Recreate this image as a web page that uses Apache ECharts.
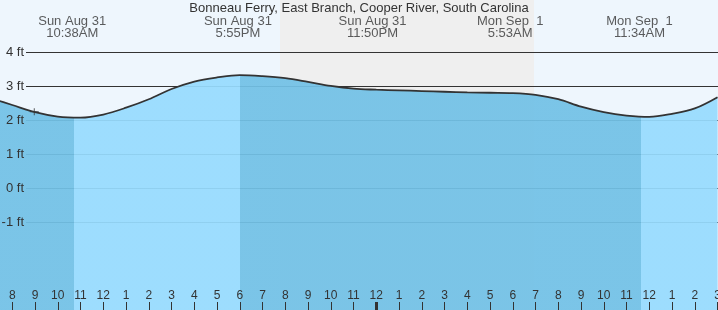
<!DOCTYPE html>
<html><head><meta charset="utf-8">
<script src="https://cdn.jsdelivr.net/npm/echarts@6/dist/echarts.min.js"></script>
<style>html,body{margin:0;padding:0;background:#fff;overflow:hidden}#c{width:718px;height:310px}</style>
</head><body><div id="c"></div>
<script>
// ---- data (hours counted from Sun Aug 31 00:00) ----
const chartTitle = 'Bonneau Ferry, East Branch, Cooper River, South Carolina';
const startHour = 7;            // first hourly reading: Sun Aug 31 7AM
const heights = [2.66, 2.45, 2.24, 2.11, 2.08, 2.17, 2.37, 2.62, 2.92, 3.14, 3.26, 3.33, 3.30,
                 3.24, 3.13, 3.01, 2.93, 2.90, 2.88, 2.86, 2.84, 2.82, 2.81, 2.80, 2.75, 2.62,
                 2.40, 2.24, 2.14, 2.10, 2.19, 2.35, 2.68];
const eventTimes = ['08-31 10:38', '08-31 17:55', '08-31 23:50', '09-01 05:53', '09-01 11:34'];
const eventLabels = ['Sun Aug 31\n10:38AM', 'Sun Aug 31\n5:55PM', 'Sun Aug 31\n11:50PM',
                     'Mon Sep  1\n5:53AM', 'Mon Sep  1\n11:34AM'];
const nightSpan = ['08-31 19:46', '09-01 06:56'];
const waterEdges = ['08-31 10:43', '08-31 18:00', '09-01 11:38']; // falling | rising | falling | rising
const viewSpan = ['08-31 07:27.6', '09-01 15:01.2'];
const nowPoint = ['08-31 08:58', 2.25];
const hourTicks = [];
for (let h = 8; h <= 39; h++) hourTicks.push(h);
const midnightTick = [24];

function toH(s) {
  const [d, t] = s.split(' ');
  const day = d === '08-31' ? 0 : 24;
  const [hh, mm] = t.split(':');
  return day + Number(hh) + Number(mm) / 60;
}
const series0 = heights.map((v, i) => [startHour + i, v]);
const xMin = toH(viewSpan[0]), xMax = toH(viewSpan[1]);
const e = waterEdges.map(toH);
const DARK = '#72c1e6', LIGHT = '#97dbfe';
const FONT = 'Liberation Sans, Arial, sans-serif';
const SMOOTH = 0.35;

const chart = echarts.init(document.getElementById('c'), null, {renderer: 'canvas'});
chart.setOption({
  animation: false,
  backgroundColor: '#eef6fd',
  textStyle: {fontFamily: FONT},
  title: {text: chartTitle, left: 'center', top: 2, padding: 0,
          textStyle: {fontSize: 13, fontWeight: 'normal', color: '#333', fontFamily: FONT}},
  grid: [
    {left: 0, right: 0, top: 0, bottom: 0, outerBoundsMode: 'none', containLabel: false},
    {left: 26, right: 0, top: 52.3, bottom: 87.7, outerBoundsMode: 'none', containLabel: false}
  ],
  xAxis: [
    {type: 'value', gridIndex: 0, min: xMin, max: xMax, z: 5, position: 'bottom',
     axisLine: {show: false, onZero: false}, splitLine: {show: false},
     axisTick: {customValues: hourTicks, inside: true, length: 8, lineStyle: {color: '#333', width: 1}},
     axisLabel: {customValues: hourTicks, inside: true, margin: 8, fontSize: 12, color: '#333',
                 formatter: v => { const h = Math.round(v) % 12; return String(h === 0 ? 12 : h); }}},
    {type: 'value', gridIndex: 0, min: xMin, max: xMax, position: 'bottom', z: 5,
     axisLine: {show: false, onZero: false}, splitLine: {show: false}, axisLabel: {show: false},
     axisTick: {customValues: midnightTick, inside: true, length: 8, lineStyle: {color: '#333', width: 3}}},
    {type: 'value', gridIndex: 1, min: xMin, max: xMax, show: false, axisLine: {onZero: false}}
  ],
  yAxis: [
    {type: 'value', gridIndex: 0, min: -3.5794, max: 5.5382, show: false},
    {type: 'value', gridIndex: 1, min: -1, max: 4, interval: 1, z: 1.5, position: 'left',
     axisLine: {show: false, onZero: false}, axisTick: {show: false}, axisLabel: {show: false},
     splitLine: {show: true, lineStyle: {color: '#333', width: 1}}},
    {type: 'value', gridIndex: 1, min: -1, max: 4, interval: 1, z: 6, position: 'left', offset: 0,
     axisLine: {show: false, onZero: false}, axisTick: {show: false}, splitLine: {show: false},
     axisLabel: {show: true, margin: 2, fontSize: 13, color: '#333', formatter: '{value} ft'}}
  ],
  visualMap: {
    show: false, type: 'piecewise', seriesIndex: 0, dimension: 0,
    pieces: [
      {lt: e[0], color: DARK},
      {gte: e[0], lt: e[1], color: LIGHT},
      {gte: e[1], lt: e[2], color: DARK},
      {gte: e[2], color: LIGHT}
    ]
  },
  series: [
    {type: 'line', name: 'water', xAxisIndex: 0, yAxisIndex: 0, data: series0, smooth: SMOOTH,
     symbol: 'none', z: 2, silent: true,
     lineStyle: {width: 0}, areaStyle: {origin: 'start', opacity: 0.93},
     markArea: {silent: true, z: 1, itemStyle: {color: '#efefef'},
                data: [[{xAxis: toH(nightSpan[0])}, {xAxis: toH(nightSpan[1])}]]}},
    {type: 'line', name: 'tide', xAxisIndex: 0, yAxisIndex: 0, data: series0, smooth: SMOOTH,
     symbol: 'none', z: 3, silent: true,
     lineStyle: {color: '#333', width: 1.8}},
    {type: 'scatter', xAxisIndex: 0, yAxisIndex: 0, z: 4, silent: true,
     data: [[toH(nowPoint[0]), nowPoint[1]]],
     symbol: 'path://M0,3H9V4H0Z M4,0H5V7H4Z', symbolSize: [9, 7], itemStyle: {color: '#333'}},
    {type: 'scatter', xAxisIndex: 0, yAxisIndex: 0, z: 7, silent: true,
     data: eventTimes.map(t => [toH(t), 4.735]),
     symbolSize: 1, itemStyle: {color: 'transparent'},
     label: {show: true, position: 'inside', fontSize: 13, lineHeight: 12, color: '#333',
             fontFamily: FONT, formatter: p => eventLabels[p.dataIndex]}}
  ]
});
</script></body></html>
